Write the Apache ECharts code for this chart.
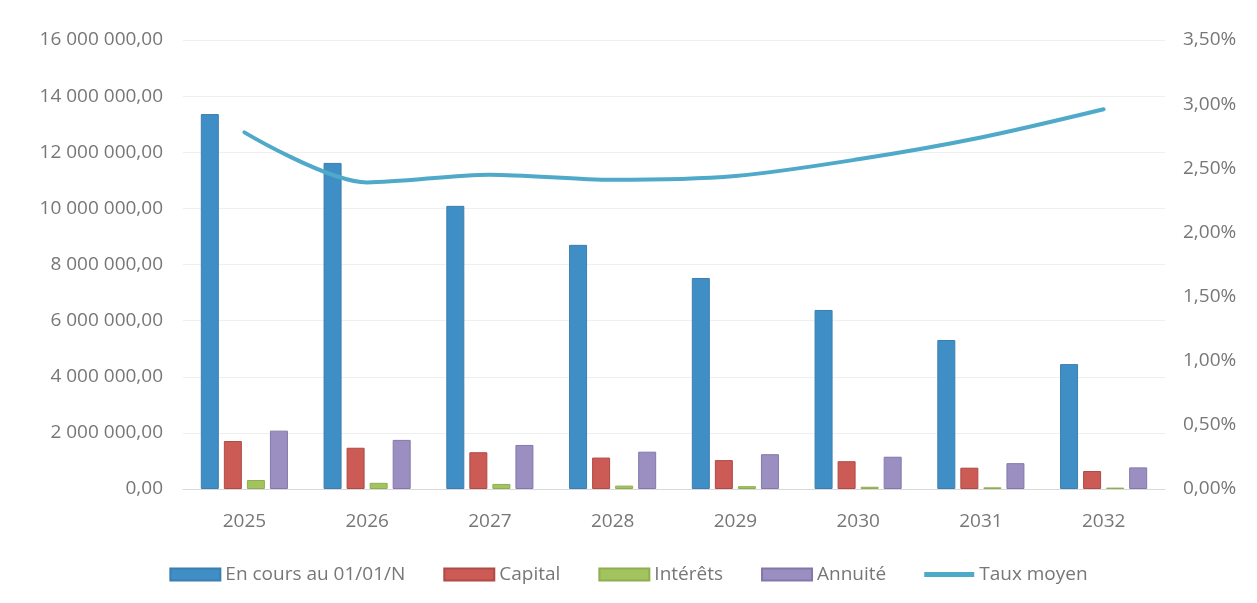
<!DOCTYPE html>
<html>
<head>
<meta charset="utf-8">
<script src="https://cdn.jsdelivr.net/npm/echarts@6/dist/echarts.min.js"></script>
<style>
  html, body { margin: 0; padding: 0; background: #fff; }
  #chart { width: 1257px; height: 603px; }
</style>
</head>
<body>
<div id="chart"></div>
<script>
var annees = ['2025', '2026', '2027', '2028', '2029', '2030', '2031', '2032'];
var enCours = [13360000, 11620000, 10090000, 8700000, 7520000, 6380000, 5310000, 4450000];
var capital = [1710000, 1470000, 1310000, 1120000, 1030000, 990000, 760000, 640000];
var interets = [320000, 220000, 180000, 120000, 100000, 80000, 60000, 50000];
var annuite = [2080000, 1750000, 1570000, 1330000, 1240000, 1150000, 920000, 770000];
var tauxMoyen = [2.78, 2.39, 2.45, 2.41, 2.44, 2.57, 2.74, 2.96];

function fmtMontant(v) {
  var s = Math.round(v).toString().replace(/\B(?=(\d{3})+(?!\d))/g, ' ');
  return s + ',00';
}

var chart = echarts.init(document.getElementById('chart'));
var police = 'Open Sans';
var gris = '#777777';

chart.setOption({
  animation: false,
  textStyle: { fontFamily: police },
  grid: { left: 183, right: 92, top: 40, bottom: 114 },
  legend: {
    top: 560,
    left: 'center',
    itemWidth: 50,
    itemHeight: 12,
    itemGap: 38,
    textStyle: { color: gris, fontSize: 19, fontFamily: police },
    data: [
      { name: 'En cours au 01/01/N', icon: 'rect' },
      { name: 'Capital', icon: 'rect' },
      { name: 'Intérêts', icon: 'rect' },
      { name: 'Annuité', icon: 'rect' },
      { name: 'Taux moyen', icon: 'path://M0,0H50V5H0Z', symbolKeepAspect: true }
    ]
  },
  xAxis: {
    type: 'category',
    data: annees,
    axisLine: { lineStyle: { color: '#d9d9d9' } },
    axisTick: { show: false },
    axisLabel: { color: gris, fontSize: 19, margin: 23 }
  },
  yAxis: [
    {
      type: 'value',
      min: 0, max: 16000000, interval: 2000000,
      axisLine: { show: false },
      axisTick: { show: false },
      splitLine: { lineStyle: { color: '#efefef' } },
      axisLabel: { color: gris, fontSize: 19, margin: 20, formatter: fmtMontant }
    },
    {
      type: 'value',
      min: 0, max: 3.5, interval: 0.5,
      axisLine: { show: false },
      axisTick: { show: false },
      splitLine: { show: false },
      axisLabel: {
        color: gris, fontSize: 19, margin: 18,
        formatter: function (v) { return v.toFixed(2).replace('.', ',') + '%'; }
      }
    }
  ],
  series: [
    { name: 'En cours au 01/01/N', type: 'bar', data: enCours, barWidth: 18, barGap: '28%',
      itemStyle: { color: '#3f8fc6', borderColor: '#3a7fb0', borderWidth: 1 } },
    { name: 'Capital', type: 'bar', data: capital, barWidth: 18,
      itemStyle: { color: '#cc5a55', borderColor: '#b04a46', borderWidth: 1 } },
    { name: 'Intérêts', type: 'bar', data: interets, barWidth: 18,
      itemStyle: { color: '#a3c35e', borderColor: '#8fae4f', borderWidth: 1 } },
    { name: 'Annuité', type: 'bar', data: annuite, barWidth: 18,
      itemStyle: { color: '#9a8fc0', borderColor: '#8478ab', borderWidth: 1 } },
    { name: 'Taux moyen', type: 'line', yAxisIndex: 1, data: tauxMoyen,
      smooth: 0.3, showSymbol: false, symbol: 'none',
      lineStyle: { color: '#4fa9c9', width: 4, cap: 'round' },
      itemStyle: { color: '#4fa9c9' } }
  ]
});
</script>
</body>
</html>
